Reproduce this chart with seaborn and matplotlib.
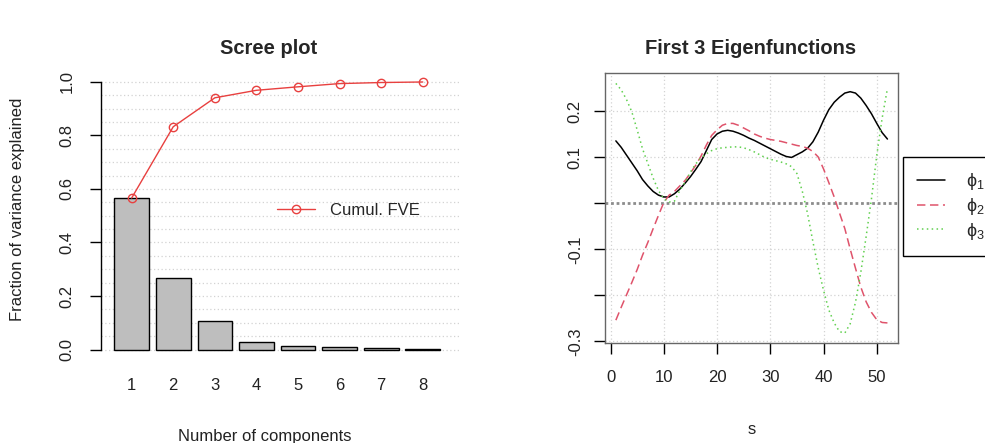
import numpy as np
import pandas as pd
import matplotlib
matplotlib.use("Agg")
import matplotlib.pyplot as plt
from matplotlib.lines import Line2D
import seaborn as sns

# ---------------- data ----------------
components = ["1", "2", "3", "4", "5", "6", "7", "8"]
fve = [0.566, 0.267, 0.108, 0.029, 0.013, 0.010, 0.005, 0.002]
cumul_fve = [0.566, 0.832, 0.940, 0.968, 0.981, 0.993, 0.997, 0.999]

s_vals = list(range(1, 53))
phi1 = [0.136, 0.122, 0.105, 0.088, 0.071, 0.052, 0.038, 0.026, 0.018, 0.014,
        0.014, 0.021, 0.031, 0.044, 0.058, 0.074, 0.091, 0.115, 0.139, 0.151,
        0.157, 0.159, 0.157, 0.153, 0.148, 0.142, 0.137, 0.131, 0.125, 0.119,
        0.113, 0.107, 0.102, 0.100, 0.106, 0.112, 0.120, 0.134, 0.155, 0.181,
        0.204, 0.220, 0.231, 0.240, 0.243, 0.240, 0.229, 0.213, 0.195, 0.174,
        0.154, 0.140]
phi2 = [-0.254, -0.226, -0.199, -0.172, -0.144, -0.113, -0.085, -0.055, -0.026, 0.002,
        0.018, 0.026, 0.038, 0.050, 0.066, 0.083, 0.103, 0.127, 0.148, 0.160,
        0.170, 0.174, 0.174, 0.170, 0.164, 0.158, 0.151, 0.146, 0.142, 0.139,
        0.137, 0.135, 0.132, 0.129, 0.126, 0.124, 0.120, 0.113, 0.101, 0.075,
        0.045, 0.014, -0.021, -0.055, -0.099, -0.141, -0.182, -0.214, -0.237, -0.253,
        -0.259, -0.260]
phi3 = [0.261, 0.247, 0.226, 0.199, 0.160, 0.119, 0.087, 0.055, 0.028, 0.010,
        0.003, 0.005, 0.028, 0.046, 0.068, 0.086, 0.099, 0.108, 0.115, 0.119,
        0.121, 0.122, 0.123, 0.123, 0.121, 0.117, 0.112, 0.106, 0.100, 0.096,
        0.093, 0.090, 0.086, 0.080, 0.065, 0.027, -0.022, -0.083, -0.140, -0.189,
        -0.232, -0.260, -0.279, -0.282, -0.262, -0.215, -0.150, -0.072, 0.010, 0.105,
        0.185, 0.250]

fve_ticks = [0.0, 0.2, 0.4, 0.6, 0.8, 1.0]
fve_grid = [0.05 * i for i in range(21)]
s_ticks = [0, 10, 20, 30, 40, 50]
phi_ticks = [-0.3, -0.2, -0.1, 0.0, 0.1, 0.2]
phi_tick_labels = ["-0.3", "", "-0.1", "", "0.1", "0.2"]
legend_labels = ["ϕ$_1$", "ϕ$_2$", "ϕ$_3$"]

# ---------------- style ----------------
sns.set_theme(style="white")
plt.rcParams["font.family"] = ["Liberation Sans", "DejaVu Sans"]
plt.rcParams["mathtext.fontset"] = "custom"
plt.rcParams["mathtext.rm"] = "Liberation Sans"
plt.rcParams["mathtext.it"] = "Liberation Sans"
FS = 12
RED = "#E8403F"
PINK = "#DF536B"
GREEN = "#61D04F"
GRID = "#D3D3D3"

W, H = 985, 443
fig = plt.figure(figsize=(W / 100, H / 100), dpi=100)

# ---------------- left: scree plot ----------------
l_left, l_right, l_top, l_bot = 101.0, 460.2, 71.0, 360.4
ax1 = fig.add_axes([l_left / W, (H - l_bot) / H, (l_right - l_left) / W, (l_bot - l_top) / H])

df = pd.DataFrame({"comp": components, "fve": fve, "cumul": cumul_fve})
sns.barplot(data=df, x="comp", y="fve", color="#BEBEBE", saturation=1,
            edgecolor="black", linewidth=1.0, width=0.833, ax=ax1, zorder=2)
sns.pointplot(data=df, x="comp", y="cumul", color=RED, markers="o",
              markersize=6, linewidth=1.0, markerfacecolor="none",
              markeredgewidth=1.0, ax=ax1, zorder=3)

ax1.set_xlim(-0.737, 7.90)
ax1.set_ylim(-0.04, 1.04)
ax1.set_yticks(fve_ticks)
ax1.set_yticklabels([f"{v:.1f}" for v in fve_ticks], rotation=90, va="center")
ax1.set_yticks(fve_grid, minor=True)
ax1.grid(False)
for g in fve_grid:
    ax1.axhline(g, color=GRID, linestyle=(0, (1, 2)), linewidth=0.9, zorder=0)
ax1.set_xlabel("")
ax1.set_ylabel("")
for side in ["top", "right", "bottom"]:
    ax1.spines[side].set_visible(False)
ax1.spines["left"].set_bounds(0, 1)
ax1.spines["left"].set_color("black")
ax1.spines["left"].set_linewidth(1.0)
ax1.tick_params(axis="y", which="major", length=8, width=1.0, color="black",
                pad=11, labelsize=FS, labelcolor="#222222", left=True)
ax1.tick_params(axis="y", which="minor", length=0)
ax1.tick_params(axis="x", length=0, pad=13, labelsize=FS, labelcolor="#222222")

leg_handle = Line2D([], [], color=RED, marker="o", markerfacecolor="none",
                    markersize=6, linewidth=1.0)
ax1.legend([leg_handle], ["Cumul. FVE"], loc="center left",
           bbox_to_anchor=(262 / W, 1 - 210.7 / H), bbox_transform=fig.transFigure,
           frameon=False, fontsize=FS, handlelength=2.3, handletextpad=0.9)

fig.text(269 / W, 1 - 48 / H, "Scree plot", ha="center", va="center",
         fontsize=14.5, fontweight="bold")
fig.text(18 / W, 1 - 209 / H, "Fraction of variance explained", rotation=90,
         ha="center", va="center", fontsize=FS, color="#222222")
fig.text(265 / W, 1 - 437 / H, "Number of components", ha="center",
         va="center", fontsize=FS, color="#222222")

# ---------------- right: eigenfunctions ----------------
r_left, r_right, r_top, r_bot = 605.0, 898.3, 73.3, 342.7
ax2 = fig.add_axes([r_left / W, (H - r_bot) / H, (r_right - r_left) / W, (r_bot - r_top) / H])

sns.lineplot(x=s_vals, y=phi1, color="black", linewidth=1.1, ax=ax2, zorder=3)
sns.lineplot(x=s_vals, y=phi2, color=PINK, linewidth=1.1, ax=ax2, zorder=3,
             linestyle=(0, (5.5, 3)))
sns.lineplot(x=s_vals, y=phi3, color=GREEN, linewidth=1.1, ax=ax2, zorder=3,
             linestyle=(0, (1, 2.2)))
curve_lines = list(ax2.get_lines())

ax2.set_xlim(-1.04, 54.04)
ax2.set_ylim(-0.303, 0.283)
ax2.set_xticks(s_ticks)
ax2.set_xticklabels([str(v) for v in s_ticks])
ax2.set_yticks(phi_ticks)
ax2.set_yticklabels(phi_tick_labels, rotation=90, va="center")
ax2.grid(False)
for v in s_ticks:
    ax2.axvline(v, color=GRID, linestyle=(0, (1, 2)), linewidth=0.9, zorder=0)
for v in phi_ticks:
    if v != 0.0:
        ax2.axhline(v, color=GRID, linestyle=(0, (1, 2)), linewidth=0.9, zorder=0)
ax2.axhline(0.0, color="#8C8C8C", linestyle=(0, (1, 1)), linewidth=2.0, zorder=1)
ax2.set_xlabel("")
ax2.set_ylabel("")
for side in ax2.spines:
    ax2.spines[side].set_color("#666666")
    ax2.spines[side].set_linewidth(1.0)
ax2.tick_params(axis="both", length=8, width=1.0, color="black", labelsize=FS,
                labelcolor="#222222", bottom=True, left=True)
ax2.tick_params(axis="x", pad=12)
ax2.tick_params(axis="y", pad=8)

ax2.legend(curve_lines, legend_labels, loc="upper left",
           bbox_to_anchor=(903 / W, 1 - 157 / H), bbox_transform=fig.transFigure,
           frameon=True, fancybox=False, edgecolor="black", framealpha=1,
           fontsize=FS + 1, handlelength=1.5, handletextpad=1.2, borderpad=0.8,
           labelspacing=0.2, borderaxespad=0)

fig.text(751 / W, 1 - 48 / H, "First 3 Eigenfunctions", ha="center",
         va="center", fontsize=14.5, fontweight="bold")
fig.text(752 / W, 1 - 430 / H, "s", ha="center", va="center", fontsize=FS,
         color="#222222")

fig.savefig("out.png", dpi=100)
